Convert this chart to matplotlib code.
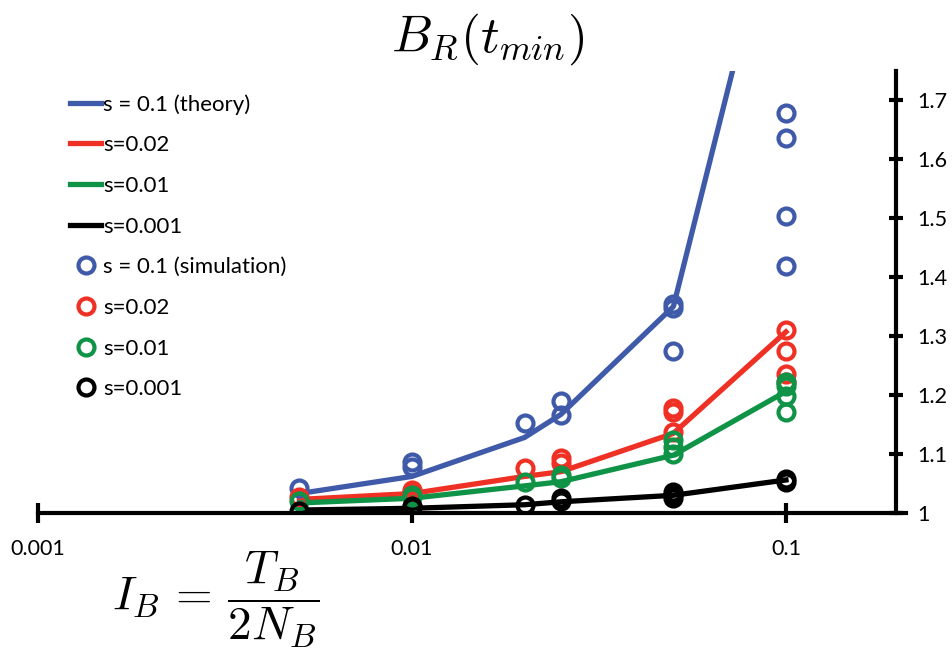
import numpy as np
import matplotlib
matplotlib.use('Agg')
import matplotlib.pyplot as plt

plt.rcParams['font.family'] = ['Lato', 'DejaVu Sans']
plt.rcParams['mathtext.fontset'] = 'cm'

# x values (I_B)
x_theory = [0.005, 0.01, 0.02, 0.025, 0.05, 0.1]

# theory curves
theory_01 = [1.033, 1.062, 1.128, 1.167, 1.350, 2.11]
theory_002 = [1.023, 1.033, 1.062, 1.070, 1.135, 1.307]
theory_001 = [1.017, 1.025, 1.046, 1.053, 1.098, 1.206]
theory_0001 = [1.005, 1.008, 1.014, 1.019, 1.030, 1.056]

# simulation points (replicates per x)
sim_x_01 = [0.005, 0.01, 0.01, 0.02, 0.025, 0.025, 0.05, 0.05, 0.05, 0.1, 0.1, 0.1, 0.1]
sim_01 = [1.042, 1.087, 1.078, 1.153, 1.189, 1.166, 1.355, 1.347, 1.275, 1.678, 1.635, 1.503, 1.418]
sim_x_002 = [0.005, 0.01, 0.01, 0.02, 0.025, 0.025, 0.05, 0.05, 0.05, 0.1, 0.1, 0.1, 0.1]
sim_002 = [1.027, 1.039, 1.035, 1.076, 1.093, 1.085, 1.178, 1.172, 1.137, 1.310, 1.275, 1.236, 1.222]
sim_x_001 = [0.005, 0.01, 0.01, 0.02, 0.025, 0.025, 0.05, 0.05, 0.05, 0.1, 0.1, 0.1, 0.1]
sim_001 = [1.021, 1.030, 1.027, 1.053, 1.064, 1.059, 1.124, 1.112, 1.100, 1.222, 1.215, 1.198, 1.172]
sim_x_0001 = [0.005, 0.01, 0.01, 0.02, 0.025, 0.025, 0.05, 0.05, 0.05, 0.1, 0.1]
sim_0001 = [1.003, 1.012, 1.010, 1.014, 1.025, 1.020, 1.036, 1.030, 1.025, 1.058, 1.053]

blue = '#3f5aa9'
red = '#ee3124'
green = '#0e9347'
black = '#000000'

fig = plt.figure(figsize=(9.52, 6.54), dpi=100)
ax = fig.add_axes([0.0399, 0.2156, 0.9118, 0.6766])

lw = 3.8
ax.plot(x_theory, theory_01, color=blue, lw=lw, label='s = 0.1 (theory)')
ax.plot(x_theory, theory_002, color=red, lw=lw, label='s=0.02')
ax.plot(x_theory, theory_001, color=green, lw=lw, label='s=0.01')
ax.plot(x_theory, theory_0001, color=black, lw=lw, label='s=0.001')

mk = dict(linestyle='none', marker='o', markersize=11.5, markeredgewidth=3,
          markerfacecolor='none')
ax.plot(sim_x_01, sim_01, markeredgecolor=blue, label='s = 0.1 (simulation)', **mk)
ax.plot(sim_x_002, sim_002, markeredgecolor=red, label='s=0.02', **mk)
ax.plot(sim_x_001, sim_001, markeredgecolor=green, label='s=0.01', **mk)
ax.plot(sim_x_0001, sim_0001, markeredgecolor=black, label='s=0.001', **mk)

ax.set_xscale('log')
ax.set_xlim(0.001, 0.2094)
ax.set_ylim(1, 1.75)

for side in ['top', 'left']:
    ax.spines[side].set_visible(False)
ax.spines['bottom'].set_linewidth(3)
ax.spines['right'].set_linewidth(3)
ax.spines['right'].set_position(('data', 0.197))

ax.set_xticks([0.001, 0.01, 0.1])
ax.set_xticklabels(['0.001', '0.01', '0.1'])
ax.xaxis.set_minor_locator(matplotlib.ticker.NullLocator())
ax.tick_params(axis='x', direction='inout', length=14, width=3, labelsize=15.5, pad=12)

ax.yaxis.tick_right()
ax.set_yticks([1, 1.1, 1.2, 1.3, 1.4, 1.5, 1.6, 1.7])
ax.set_yticklabels(['1', '1.1', '1.2', '1.3', '1.4', '1.5', '1.6', '1.7'])
ax.tick_params(axis='y', direction='inout', length=10, width=3, labelsize=15.5, pad=10)

fig.text(0.512, 0.94, r'$B_R(t_{min})$', fontsize=37, ha='center', va='center')
fig.text(0.118, 0.085, r'$I_B\,=\,\dfrac{T_B}{2N_B}$', fontsize=34, ha='left', va='center')

ax.legend(loc='upper left', bbox_to_anchor=(70 / 952, 1 - 94 / 654),
          bbox_transform=fig.transFigure, frameon=False, fontsize=16,
          labelspacing=0.93, handlelength=1.4, handletextpad=0.1,
          borderpad=0, borderaxespad=0)

fig.savefig('out.png', dpi=100)
